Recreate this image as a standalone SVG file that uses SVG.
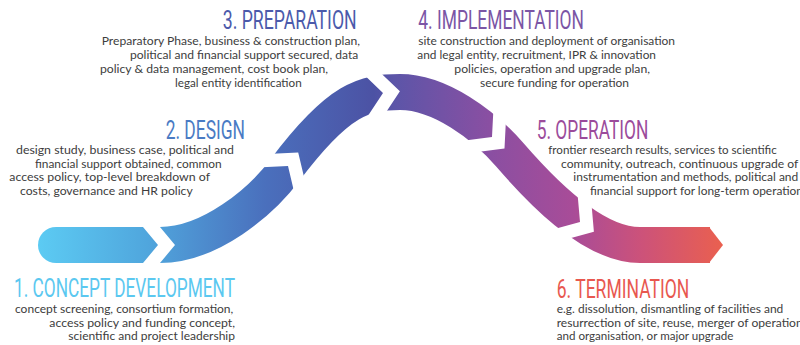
<svg xmlns="http://www.w3.org/2000/svg" width="800" height="345" viewBox="0 0 800 345">
<style>
.h{font-family:Roboto,"Liberation Sans",sans-serif;font-size:25px}
.b{font-family:Lato,"Open Sans","Liberation Sans",sans-serif;font-size:11.2px;fill:#3d3d3d}
.cut{fill:#fff}
</style>
<defs>
<linearGradient id="g" gradientUnits="userSpaceOnUse" x1="38" y1="0" x2="723" y2="0">
<stop offset="0" stop-color="#5ccbf3"/>
<stop offset="0.16" stop-color="#50a6dd"/>
<stop offset="0.33" stop-color="#4a70bd"/>
<stop offset="0.49" stop-color="#4c52a4"/>
<stop offset="0.52" stop-color="#5c55a8"/>
<stop offset="0.66" stop-color="#8a4fa2"/>
<stop offset="0.78" stop-color="#a84c98"/>
<stop offset="0.88" stop-color="#cc527a"/>
<stop offset="1" stop-color="#ea604f"/>
</linearGradient>
</defs>
<rect width="800" height="345" fill="#fff"/>
<g id="flow-arrow">
<circle cx="56" cy="245" r="18" fill="url(#g)"/>
<path d="M56,245 H160 C210,245 261,202 285,170 C339,98 365,92 400,92 C440,92 484,125 510,155 C536,185 590,245 640,245 H710" fill="none" stroke="url(#g)" stroke-width="36"/>
<polygon points="709,227 723,245 709,263" fill="url(#g)"/>
<polygon class="cut" points="138,269 158,245 138,221 155,221 175,245 155,269"/>
<polygon class="cut" points="295.2,196.4 288,166 256.8,167.6 267,154 298.2,152.4 305.4,182.8"/>
<polygon class="cut" points="365.5,119.4 383,93 360.7,71.6 377.6,69.9 399.9,91.3 382.4,117.7"/>
<polygon class="cut" points="461,141 492,137 493.6,105.8 506.1,117.3 504.5,148.5 473.5,152.5"/>
<polygon class="cut" points="549.9,230.3 580,222 577.3,190.9 591.2,200.6 593.9,231.7 563.8,240"/>
</g>
<g id="stage1">
<text class="h" x="14" y="296.5" textLength="221" lengthAdjust="spacingAndGlyphs" fill="#5bc8f0">1. CONCEPT DEVELOPMENT</text>
<text class="b" x="15" y="313.3" textLength="218.3" lengthAdjust="spacingAndGlyphs">concept screening, consortium formation,</text>
<text class="b" x="49.3" y="326.6" textLength="185.7" lengthAdjust="spacingAndGlyphs">access policy and funding concept,</text>
<text class="b" x="68.3" y="340" textLength="166.7" lengthAdjust="spacingAndGlyphs">scientific and project leadership</text>
</g>
<g id="stage2">
<text class="h" x="165.7" y="138.5" textLength="79.3" lengthAdjust="spacingAndGlyphs" fill="#4a7bc4">2. DESIGN</text>
<text class="b" x="16" y="154.3" textLength="218" lengthAdjust="spacingAndGlyphs">design study, business case, political and</text>
<text class="b" x="35" y="167.6" textLength="186.7" lengthAdjust="spacingAndGlyphs">financial support obtained, common</text>
<text class="b" x="9.3" y="181" textLength="200.7" lengthAdjust="spacingAndGlyphs">access policy, top-level breakdown of</text>
<text class="b" x="20" y="194.5" textLength="172.7" lengthAdjust="spacingAndGlyphs">costs, governance and HR policy</text>
</g>
<g id="stage3">
<text class="h" x="222.7" y="29.2" textLength="134" lengthAdjust="spacingAndGlyphs" fill="#4b5aab">3. PREPARATION</text>
<text class="b" x="101.7" y="45.3" textLength="258.3" lengthAdjust="spacingAndGlyphs">Preparatory Phase, business &amp; construction plan,</text>
<text class="b" x="130" y="59.1" textLength="228.3" lengthAdjust="spacingAndGlyphs">political and financial support secured, data</text>
<text class="b" x="100" y="73" textLength="228" lengthAdjust="spacingAndGlyphs">policy &amp; data management, cost book plan,</text>
<text class="b" x="175" y="87" textLength="126.7" lengthAdjust="spacingAndGlyphs">legal entity identification</text>
</g>
<g id="stage4">
<text class="h" x="418.3" y="29.2" textLength="165.7" lengthAdjust="spacingAndGlyphs" fill="#7b55a5">4. IMPLEMENTATION</text>
<text class="b" x="418.3" y="45.3" textLength="256.7" lengthAdjust="spacingAndGlyphs">site construction and deployment of organisation</text>
<text class="b" x="417.3" y="59.1" textLength="238.7" lengthAdjust="spacingAndGlyphs">and legal entity, recruitment, IPR &amp; innovation</text>
<text class="b" x="454.3" y="73" textLength="195.7" lengthAdjust="spacingAndGlyphs">policies, operation and upgrade plan,</text>
<text class="b" x="480" y="87" textLength="149" lengthAdjust="spacingAndGlyphs">secure funding for operation</text>
</g>
<g id="stage5">
<text class="h" x="536.7" y="138.5" textLength="111.6" lengthAdjust="spacingAndGlyphs" fill="#9b4b9b">5. OPERATION</text>
<text class="b" x="548.3" y="154.3" textLength="228.4" lengthAdjust="spacingAndGlyphs">frontier research results, services to scientific</text>
<text class="b" x="561" y="167.6" textLength="237.3" lengthAdjust="spacingAndGlyphs">community, outreach, continuous upgrade of</text>
<text class="b" x="573.3" y="181" textLength="225" lengthAdjust="spacingAndGlyphs">instrumentation and methods, political and</text>
<text class="b" x="590" y="194.5" textLength="213" lengthAdjust="spacingAndGlyphs">financial support for long-term operation</text>
</g>
<g id="stage6">
<text class="h" x="556.7" y="297.5" textLength="132.6" lengthAdjust="spacingAndGlyphs" fill="#e8584f">6. TERMINATION</text>
<text class="b" x="556.7" y="313.3" textLength="226.6" lengthAdjust="spacingAndGlyphs">e.g. dissolution, dismantling of facilities and</text>
<text class="b" x="556.7" y="326.6" textLength="246" lengthAdjust="spacingAndGlyphs">resurrection of site, reuse, merger of operation</text>
<text class="b" x="556.7" y="340" textLength="176.6" lengthAdjust="spacingAndGlyphs">and organisation, or major upgrade</text>
</g>
</svg>
